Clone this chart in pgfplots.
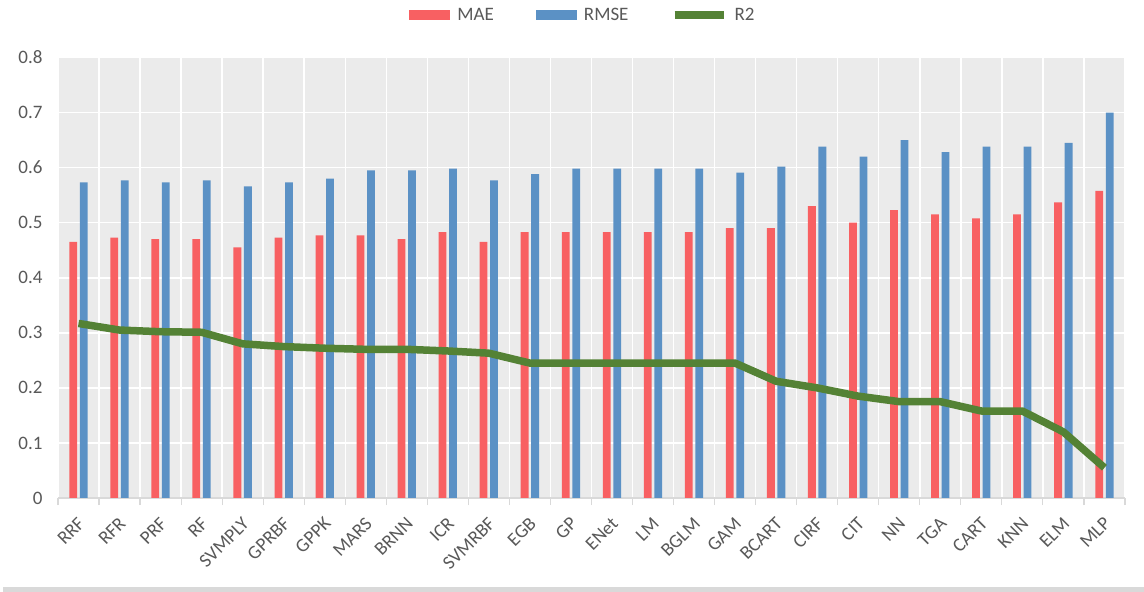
\documentclass[border=0pt]{standalone}
\usepackage{fontspec}
\setmainfont{Carlito}
\usepackage{pgfplots}
\usepackage{pgfplotstable}
\pgfplotsset{compat=1.18}

\definecolor{maeRed}{RGB}{248,96,98}
\definecolor{rmseBlue}{RGB}{91,145,197}
\definecolor{rGreen}{RGB}{84,130,53}
\definecolor{panelGray}{RGB}{235,235,235}
\definecolor{axisGray}{RGB}{217,217,217}
\definecolor{textGray}{RGB}{89,89,89}

% error metrics per model (index, MAE, RMSE, R2)
\pgfplotstableread{
idx mae   rmse  r2
0   0.465 0.573 0.317
1   0.473 0.577 0.305
2   0.470 0.573 0.302
3   0.470 0.577 0.301
4   0.455 0.566 0.280
5   0.473 0.573 0.275
6   0.477 0.580 0.272
7   0.477 0.595 0.270
8   0.470 0.595 0.270
9   0.483 0.598 0.267
10  0.465 0.577 0.263
11  0.483 0.588 0.245
12  0.483 0.598 0.245
13  0.483 0.598 0.245
14  0.483 0.598 0.245
15  0.483 0.598 0.245
16  0.490 0.591 0.245
17  0.490 0.602 0.212
18  0.530 0.638 0.200
19  0.500 0.620 0.185
20  0.523 0.650 0.175
21  0.515 0.628 0.175
22  0.508 0.638 0.158
23  0.515 0.638 0.158
24  0.537 0.645 0.120
25  0.558 0.700 0.055
}\metrics

\begin{document}
\begin{tikzpicture}[x=1pt,y=1pt]
\useasboundingbox (0,0) rectangle (1144,592);
\fill[white] (0,0) rectangle (1144,592);
\fill[axisGray] (3,0) rectangle (1144,5);
\begin{axis}[
  at={(58pt,94pt)}, anchor=south west,
  scale only axis,
  width=1067pt, height=440.5pt,
  xmin=-0.5, xmax=25.5,
  ymin=0, ymax=0.8,
  axis background/.style={fill=panelGray},
  axis x line*=bottom,
  axis y line*=left,
  x axis line style={draw=axisGray, line width=1.2pt, -},
  y axis line style={draw=none},
  font=\fontsize{19}{23}\selectfont,
  tick label style={text=textGray},
  ytick={0,0.1,0.2,0.3,0.4,0.5,0.6,0.7,0.8},
  yticklabels={0,0.1,0.2,0.3,0.4,0.5,0.6,0.7,0.8},
  yticklabel style={anchor=east, xshift=-12pt},
  ymajorgrids,
  y grid style={white, line width=1.5pt},
  xtick={0,...,25},
  xticklabels={RRF,RFR,PRF,RF,SVMPLY,GPRBF,GPPK,MARS,BRNN,ICR,SVMRBF,EGB,GP,ENet,LM,BGLM,GAM,BCART,CIRF,CIT,NN,TGA,CART,KNN,ELM,MLP},
  xticklabel style={yshift=-18pt, xshift=-1.5pt, rotate=45, anchor=north east, inner sep=0pt},
  minor xtick={-0.5,0.5,...,25.5},
  xminorgrids,
  minor x grid style={white, line width=1.5pt},
  major tick length=0pt,
  minor tick length=7pt,
  tick align=outside,
  minor tick style={axisGray, line width=1.2pt},
  legend columns=3,
  legend style={at={(0.492,1)}, anchor=center, yshift=42.5pt,
    draw=none, fill=none, text=textGray,
    /tikz/every odd column/.append style={column sep=5pt},
    /tikz/every even column/.append style={column sep=40pt}},
]
\addplot[ybar, bar width=7.8pt, bar shift=-5.3pt, fill=maeRed, draw=none,
  legend image code/.code={\fill[maeRed] (0pt,-5pt) rectangle (41pt,5pt);}]
  table[x=idx, y=mae] {\metrics};
\addlegendentry{MAE}
\addplot[ybar, bar width=7.8pt, bar shift=5.2pt, fill=rmseBlue, draw=none,
  legend image code/.code={\fill[rmseBlue] (0pt,-5pt) rectangle (41pt,5pt);}]
  table[x=idx, y=rmse] {\metrics};
\addlegendentry{RMSE}
\addplot[rGreen, line width=7.5pt, line join=round, no marks,
  legend image code/.code={\draw[rGreen, line width=8pt] (0pt,0pt) -- (49pt,0pt);}]
  table[x=idx, y=r2] {\metrics};
\addlegendentry{R2}
\end{axis}
\end{tikzpicture}
\end{document}
